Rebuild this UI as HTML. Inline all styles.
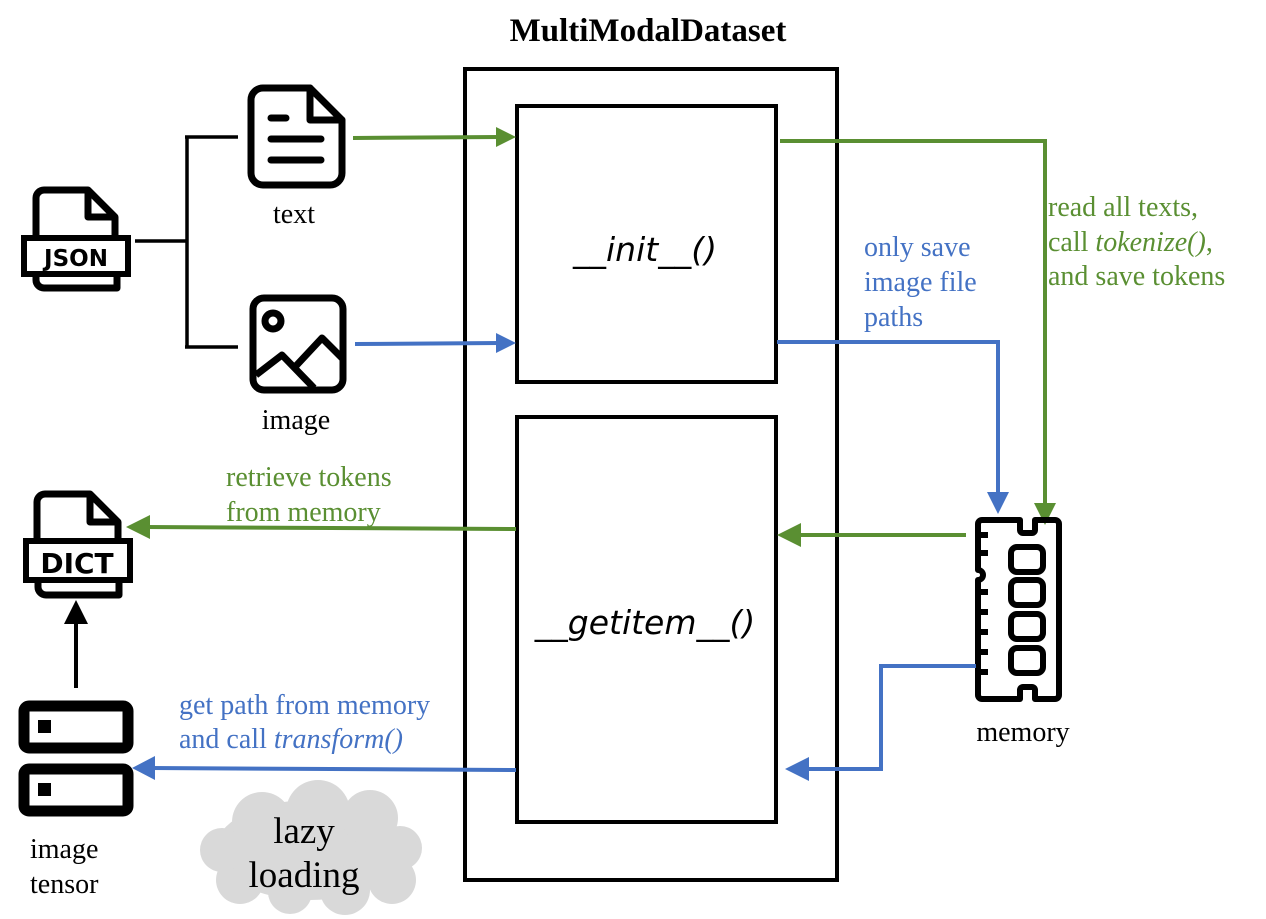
<!DOCTYPE html>
<html><head><meta charset="utf-8"><style>
html,body{margin:0;padding:0;background:#fff;}
svg{display:block;}
.s{font-family:"Liberation Serif",serif;}
</style></head><body>
<svg width="1266" height="919" viewBox="0 0 1266 919" xmlns="http://www.w3.org/2000/svg">
<text x="648" y="41" text-anchor="middle" class="s" font-size="33" font-weight="bold">MultiModalDataset</text>
<rect x="465" y="69" width="372" height="811" fill="none" stroke="#000" stroke-width="4"/>
<rect x="517" y="106" width="259" height="276" fill="none" stroke="#000" stroke-width="4"/>
<rect x="517" y="417" width="259" height="405" fill="none" stroke="#000" stroke-width="4"/>
<text x="645" y="261" text-anchor="middle" font-family="'DejaVu Sans','Liberation Sans',sans-serif" font-style="italic" font-size="33">__init__()</text>
<text x="645" y="634" text-anchor="middle" font-family="'DejaVu Sans','Liberation Sans',sans-serif" font-style="italic" font-size="33">__getitem__()</text>

<!-- JSON icon -->
<g stroke="#000" stroke-width="7" fill="none" stroke-linejoin="round">
<path d="M36,240 V198 a8,8 0 0 1 8,-8 H88 L115,217 V240"/>
<path d="M88,190 V217 H115"/>
<path d="M36,270 V280 a8,8 0 0 0 8,8 H117 V270"/>
</g>
<rect x="24" y="238" width="104" height="36" fill="#fff" stroke="#000" stroke-width="6"/>
<text x="76" y="266" text-anchor="middle" font-family="'DejaVu Sans',sans-serif" font-weight="bold" font-size="23">JSON</text>

<!-- bracket -->
<path d="M135,241 H187 M187,137 V347 M185,137 H238 M185,347 H238" stroke="#000" stroke-width="3.5" fill="none"/>

<!-- text icon -->
<g stroke="#000" stroke-width="7" fill="none" stroke-linejoin="round" stroke-linecap="round">
<path d="M251,100 a12,12 0 0 1 12,-12 H310 L342,120 V173 a12,12 0 0 1 -12,12 H263 a12,12 0 0 1 -12,-12z"/>
<path d="M310,88 V120 H342"/>
<path d="M271,118 H286 M271,139 H321 M271,160 H321"/>
</g>
<text x="294" y="223" text-anchor="middle" class="s" font-size="28">text</text>

<!-- image icon -->
<g stroke="#000" stroke-width="7" fill="none" stroke-linejoin="round">
<rect x="253" y="298" width="90" height="92" rx="11"/>
<circle cx="273" cy="321" r="8"/>
<path d="M256,375 L282,355 L314,388 M294,368 L322,338 L342,358"/>
</g>
<text x="296" y="429" text-anchor="middle" class="s" font-size="28">image</text>

<!-- arrows top -->
<line x1="353" y1="138" x2="500" y2="137" stroke="#5a8f32" stroke-width="4"/>
<path d="M516,137 L496,127 L496,147z" fill="#5a8f32"/>
<line x1="355" y1="344" x2="500" y2="343" stroke="#4472c4" stroke-width="4"/>
<path d="M516,343 L496,333 L496,353z" fill="#4472c4"/>

<path d="M780,141 H1045 V505" stroke="#5a8f32" stroke-width="4" fill="none"/>
<path d="M1045,525 L1034,503 L1056,503z" fill="#5a8f32"/>
<path d="M777,342 H998 V495" stroke="#4472c4" stroke-width="4" fill="none"/>
<path d="M998,514 L987,492 L1009,492z" fill="#4472c4"/>

<text class="s" font-size="28" fill="#5a8f32"><tspan x="1048" y="216">read all texts,</tspan><tspan x="1048" y="251">call <tspan font-style="italic">tokenize()</tspan>,</tspan><tspan x="1048" y="285">and save tokens</tspan></text>
<text class="s" font-size="28" fill="#4472c4"><tspan x="864" y="256">only save</tspan><tspan x="864" y="291">image file</tspan><tspan x="864" y="326">paths</tspan></text>

<!-- memory icon -->
<g stroke="#000" stroke-width="6" fill="none" stroke-linejoin="round">
<path d="M978,524 a4,4 0 0 1 4,-4 H1020 V530 a3,3 0 0 0 3,3 H1032 a3,3 0 0 0 3,-3 V520 H1055 a4,4 0 0 1 4,4 V695 a4,4 0 0 1 -4,4 H1035 V690 a3,3 0 0 0 -3,-3 H1023 a3,3 0 0 0 -3,3 V699 H982 a4,4 0 0 1 -4,-4 V580 a5,5 0 0 0 0,-10 z"/>
<path d="M978,535 H988 M978,553 H988 M978,592 H988 M978,612 H988 M978,632 H988 M978,652 H988 M978,672 H988"/>
<rect x="1011" y="547" width="32" height="25" rx="6"/>
<rect x="1011" y="580" width="32" height="25" rx="6"/>
<rect x="1011" y="614" width="32" height="25" rx="6"/>
<rect x="1011" y="648" width="32" height="25" rx="6"/>
</g>
<text x="1023" y="741" text-anchor="middle" class="s" font-size="28">memory</text>

<!-- memory to getitem -->
<line x1="966" y1="535" x2="795" y2="535" stroke="#5a8f32" stroke-width="4"/>
<path d="M777,535 L801,523 L801,547z" fill="#5a8f32"/>
<path d="M976,666 H881 V769 H805" stroke="#4472c4" stroke-width="4" fill="none"/>
<path d="M785,769 L809,757 L809,781z" fill="#4472c4"/>

<!-- getitem to DICT -->
<line x1="516" y1="529" x2="145" y2="527" stroke="#5a8f32" stroke-width="4"/>
<path d="M126,527 L150,515 L150,539z" fill="#5a8f32"/>
<text class="s" font-size="28" fill="#5a8f32"><tspan x="226" y="486">retrieve tokens</tspan><tspan x="226" y="521">from memory</tspan></text>

<!-- DICT icon -->
<g stroke="#000" stroke-width="7" fill="none" stroke-linejoin="round">
<path d="M37,542 V502 a8,8 0 0 1 8,-8 H90 L118,522 V542"/>
<path d="M90,494 V522 H118"/>
<path d="M38,580 V587 a8,8 0 0 0 8,8 H119 V580"/>
</g>
<rect x="26" y="541" width="104" height="39" fill="#fff" stroke="#000" stroke-width="6"/>
<text x="77" y="573" text-anchor="middle" font-family="'DejaVu Sans',sans-serif" font-weight="bold" font-size="28">DICT</text>

<!-- up arrow -->
<line x1="76" y1="688" x2="76" y2="618" stroke="#000" stroke-width="4"/>
<path d="M76,600 L64,624 L88,624z" fill="#000"/>

<!-- tensor icon -->
<rect x="24" y="706" width="104" height="42" rx="5" fill="none" stroke="#000" stroke-width="11"/>
<rect x="38" y="720" width="13" height="13" fill="#000"/>
<rect x="24" y="769" width="104" height="42" rx="5" fill="none" stroke="#000" stroke-width="11"/>
<rect x="38" y="783" width="13" height="13" fill="#000"/>
<text class="s" font-size="28"><tspan x="30" y="858">image</tspan><tspan x="30" y="893">tensor</tspan></text>

<!-- getitem to tensor -->
<line x1="516" y1="770" x2="150" y2="768" stroke="#4472c4" stroke-width="4"/>
<path d="M132,768 L155,756 L155,780z" fill="#4472c4"/>
<text class="s" font-size="28" fill="#4472c4"><tspan x="179" y="714">get path from memory</tspan><tspan x="179" y="748">and call <tspan font-style="italic">transform()</tspan></tspan></text>

<!-- cloud -->
<g fill="#d9d9d9">
<ellipse cx="310" cy="850" rx="95" ry="50"/>
<circle cx="262" cy="822" r="30"/>
<circle cx="318" cy="812" r="32"/>
<circle cx="370" cy="818" r="28"/>
<circle cx="400" cy="848" r="22"/>
<circle cx="392" cy="880" r="24"/>
<circle cx="345" cy="890" r="25"/>
<circle cx="290" cy="892" r="22"/>
<circle cx="240" cy="880" r="24"/>
<circle cx="222" cy="850" r="22"/>
</g>
<text class="s" font-size="37" text-anchor="middle"><tspan x="304" y="843">lazy</tspan><tspan x="304" y="887">loading</tspan></text>
</svg>
</body></html>
